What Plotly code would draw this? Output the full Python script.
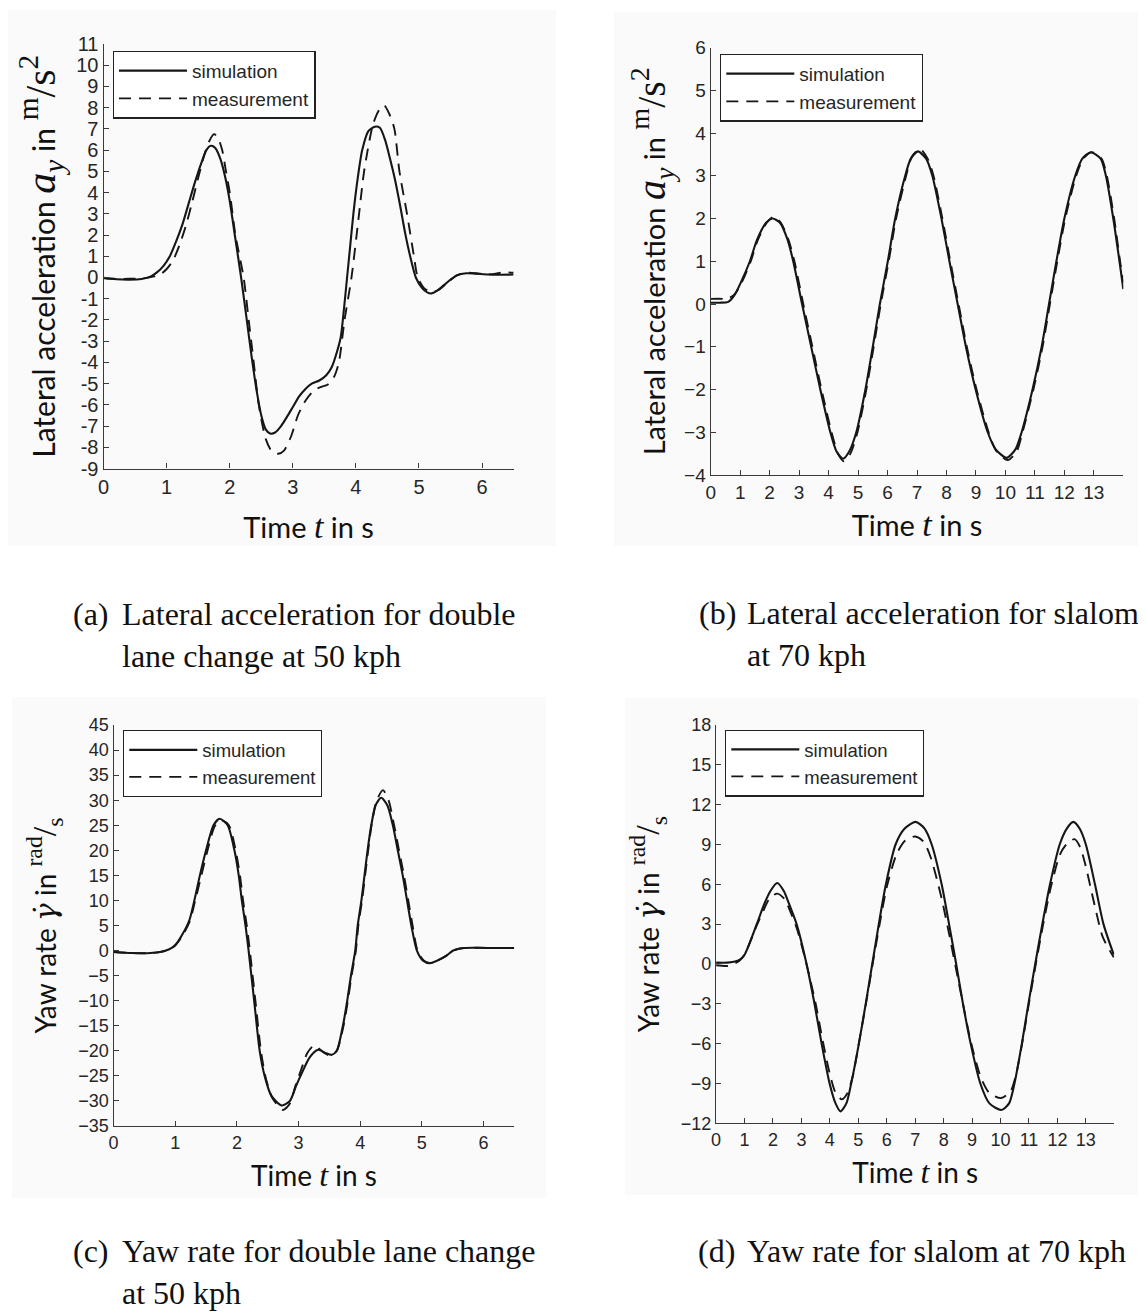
import plotly.graph_objects as go

W, H = 1146, 1315

# ---------------- data ----------------
# (a) lateral acceleration, double lane change 50 kph
a_sim_t = [0.0, 0.2, 0.4, 0.6, 0.75, 0.85, 0.95, 1.05, 1.15, 1.25, 1.35, 1.45, 1.55, 1.63, 1.7, 1.77,
           1.85, 1.93, 2.0, 2.08, 2.18, 2.27, 2.35, 2.43, 2.5, 2.57, 2.64, 2.72, 2.8, 2.9, 3.0, 3.1,
           3.2, 3.3, 3.42, 3.53, 3.62, 3.7, 3.76, 3.81, 3.86, 3.91, 3.96, 4.03, 4.1, 4.2, 4.3, 4.38,
           4.46, 4.54, 4.62, 4.7, 4.78, 4.86, 4.95, 5.05, 5.13, 5.2, 5.3, 5.4, 5.5, 5.6, 5.75, 5.9,
           6.1, 6.3, 6.5]
a_sim_v = [-0.02, -0.08, -0.1, -0.07, 0.05, 0.25, 0.55, 1.0, 1.7, 2.5, 3.5, 4.5, 5.4, 6.0, 6.2, 6.1,
           5.6, 4.7, 3.6, 2.0, 0.0, -2.0, -3.8, -5.4, -6.5, -7.15, -7.35, -7.3, -7.05, -6.6, -6.1, -5.6,
           -5.25, -5.0, -4.85, -4.6, -4.2, -3.5, -2.8, -1.5, 0.0, 1.5, 3.0, 4.7, 6.0, 6.9, 7.1, 7.05,
           6.5, 5.6, 4.6, 3.4, 2.1, 1.0, 0.0, -0.5, -0.7, -0.75, -0.6, -0.35, -0.1, 0.1, 0.2, 0.18,
           0.14, 0.13, 0.14]
a_meas_t = [0.0, 0.2, 0.4, 0.6, 0.8, 0.9, 1.0, 1.1, 1.2, 1.3, 1.4, 1.5, 1.6, 1.68, 1.75, 1.81, 1.88,
            1.94, 2.0, 2.09, 2.22, 2.3, 2.38, 2.46, 2.57, 2.67, 2.77, 2.86, 2.97, 3.08, 3.2, 3.34, 3.45,
            3.55, 3.65, 3.73, 3.82, 3.93, 4.05, 4.13, 4.27, 4.37, 4.45, 4.53, 4.61, 4.69, 4.81, 4.92,
            4.98, 5.08, 5.2, 5.3, 5.45, 5.6, 5.75, 5.95, 6.15, 6.35, 6.5]
a_meas_v = [-0.03, -0.08, -0.06, -0.05, 0.05, 0.15, 0.4, 0.8, 1.5, 2.4, 3.5, 4.7, 5.8, 6.45, 6.75, 6.6, 6.0,
            5.0, 4.0, 2.0, 0.0, -2.0, -4.0, -6.0, -7.6, -8.2, -8.3, -8.15, -7.5, -6.5, -5.8, -5.3, -5.15,
            -5.05, -4.7, -4.0, -2.0, 0.0, 3.0, 5.0, 7.2, 7.9, 8.1, 7.7, 7.0, 5.0, 3.0, 1.0,
            0.0, -0.5, -0.7, -0.6, -0.25, 0.1, 0.22, 0.18, 0.15, 0.25, 0.22]

# (b) lateral acceleration, slalom 70 kph
b_sim_t = [0.0, 0.3, 0.6, 0.8, 1.02, 1.33, 1.57, 1.88, 2.1, 2.35, 2.61, 2.8, 3.1, 3.41, 3.72, 4.06, 4.27,
           4.49, 4.7, 4.94, 5.25, 5.5, 5.74, 6.01, 6.26, 6.6, 6.79, 7.03, 7.31, 7.52, 7.83, 8.1, 8.38,
           8.66, 8.99, 9.4, 9.67, 10.04, 10.34, 10.55, 10.92, 11.23, 11.48, 11.73, 12.0, 12.37, 12.61,
           12.9, 13.23, 13.41, 13.66, 13.87, 14.0]
b_sim_v = [0.03, 0.03, 0.05, 0.2, 0.5, 1.0, 1.5, 1.9, 2.0, 1.9, 1.5, 1.0, 0.0, -1.0, -2.0, -3.0, -3.45,
           -3.62, -3.45, -3.0, -2.0, -1.0, 0.0, 1.0, 2.0, 3.0, 3.4, 3.57, 3.4, 3.0, 2.0, 1.0, 0.0,
           -1.0, -2.0, -3.0, -3.4, -3.6, -3.4, -3.0, -2.0, -1.0, 0.0, 1.0, 2.0, 3.0, 3.4,
           3.55, 3.4, 3.0, 2.0, 1.0, 0.35]
b_meas_t = [0.0, 0.4, 0.5, 0.8, 1.05, 1.36, 1.6, 1.9, 2.15, 2.38, 2.64, 2.84, 3.14, 3.45, 3.76, 4.1, 4.32,
            4.52, 4.74, 4.98, 5.28, 5.53, 5.77, 6.04, 6.29, 6.63, 6.83, 7.1, 7.36, 7.56, 7.86, 8.13, 8.41,
            8.69, 9.02, 9.43, 9.7, 10.08, 10.38, 10.58, 10.95, 11.26, 11.51, 11.76, 12.03, 12.4, 12.64,
            12.93, 13.26, 13.44, 13.69, 13.89, 14.0]
b_meas_v = [0.12, 0.12, 0.1, 0.22, 0.5, 1.0, 1.5, 1.9, 2.05, 1.9, 1.5, 1.0, 0.0, -1.0, -2.0, -3.0, -3.5,
            -3.68, -3.5, -3.0, -2.0, -1.0, 0.0, 1.0, 2.0, 3.0, 3.45, 3.63, 3.4, 3.0, 2.0, 1.0, 0.0,
            -1.0, -2.0, -3.0, -3.45, -3.65, -3.45, -3.0, -2.0, -1.0, 0.0, 1.0, 2.0, 3.0, 3.4,
            3.55, 3.4, 3.0, 2.0, 1.0, 0.5]

# (c) yaw rate, double lane change 50 kph
c_sim_t = [0.0, 0.3, 0.6, 0.75, 0.85, 0.95, 1.0, 1.11, 1.23, 1.31, 1.4, 1.5, 1.62, 1.72, 1.85, 1.96,
           2.03, 2.08, 2.14, 2.19, 2.28, 2.37, 2.45, 2.56, 2.73, 2.86, 2.96, 3.07, 3.17, 3.28, 3.33,
           3.45, 3.54, 3.62, 3.72, 3.79, 3.85, 3.92, 3.96, 4.02, 4.07, 4.12, 4.18, 4.25, 4.34, 4.44,
           4.53, 4.61, 4.69, 4.76, 4.83, 4.92, 5.02, 5.13, 5.25, 5.4, 5.51, 5.68, 5.9, 6.2, 6.5]
c_sim_v = [-0.3, -0.5, -0.5, -0.3, 0.0, 0.6, 1.1, 3.1, 6.1, 10.0, 15.0, 20.0, 25.0, 26.3, 25.0, 20.0,
           15.0, 10.0, 5.0, 0.0, -10.0, -20.0, -25.0, -29.0, -30.9, -30.0, -27.0, -24.0, -21.5, -20.0, -19.8,
           -20.5, -20.8, -20.0, -15.0, -10.0, -5.0, 0.0, 5.0, 10.0, 15.0, 20.0, 25.0, 29.0, 30.5, 29.0,
           25.0, 20.0, 15.0, 10.0, 5.0, 0.0, -2.0, -2.5, -2.0, -1.0, 0.0, 0.5, 0.55, 0.5, 0.5]
c_meas_t = [0.0, 0.3, 0.6, 0.75, 0.85, 0.95, 1.0, 1.12, 1.24, 1.32, 1.42, 1.52, 1.64, 1.74, 1.87, 1.98,
            2.05, 2.1, 2.16, 2.21, 2.3, 2.39, 2.47, 2.58, 2.75, 2.86, 2.95, 3.05, 3.14, 3.24, 3.28,
            3.4, 3.52, 3.62, 3.73, 3.8, 3.86, 3.93, 3.97, 4.03, 4.08, 4.13, 4.19, 4.27, 4.37, 4.46,
            4.55, 4.63, 4.71, 4.78, 4.85, 4.93, 5.03, 5.13, 5.25, 5.4, 5.51, 5.68, 5.9, 6.2, 6.5]
c_meas_v = [-0.3, -0.5, -0.5, -0.3, 0.0, 0.6, 1.0, 3.0, 6.0, 9.8, 14.8, 19.8, 24.8, 26.0, 25.0, 20.0,
            15.0, 10.0, 5.0, 0.0, -10.0, -20.0, -25.5, -29.5, -31.8, -30.5, -27.0, -23.5, -20.5, -19.0, -19.0,
            -20.3, -21.0, -20.0, -15.0, -10.0, -5.0, 0.0, 5.0, 10.0, 15.0, 20.0, 25.5, 30.0, 32.0, 30.0,
            25.0, 20.0, 15.0, 10.0, 5.0, 0.0, -2.0, -2.5, -2.0, -1.0, 0.0, 0.5, 0.55, 0.5, 0.5]

# (d) yaw rate, slalom 70 kph
d_sim_t = [0.0, 0.4, 0.7, 0.85, 1.0, 1.43, 1.69, 1.91, 2.15, 2.38, 2.57, 2.83, 3.18, 3.46, 3.71, 3.99,
           4.2, 4.37, 4.58, 4.75, 5.02, 5.26, 5.49, 5.72, 5.97, 6.31, 6.63, 7.01, 7.33, 7.58, 7.93,
           8.19, 8.44, 8.68, 8.95, 9.29, 9.61, 10.03, 10.3, 10.49, 10.75, 10.98, 11.22, 11.47, 11.74,
           12.08, 12.33, 12.56, 12.78, 13.0, 13.32, 13.62, 13.98]
d_sim_v = [0.1, 0.1, 0.2, 0.35, 0.7, 3.0, 4.5, 5.5, 6.1, 5.5, 4.5, 3.0, 0.0, -3.0, -6.0, -9.0,
           -10.5, -11.1, -10.5, -9.0, -6.0, -3.0, 0.0, 3.0, 6.0, 9.0, 10.2, 10.7, 10.2, 9.0, 6.0,
           3.0, 0.0, -3.0, -6.0, -9.0, -10.5, -11.0, -10.5, -9.0, -6.0, -3.0, 0.0, 3.0, 6.0,
           9.0, 10.2, 10.7, 10.2, 9.0, 6.0, 3.0, 0.7]
d_meas_t = [0.0, 0.4, 0.6, 0.8, 1.0, 1.43, 1.7, 1.9, 2.15, 2.4, 2.6, 2.85, 3.2, 3.5, 3.75, 4.0,
            4.2, 4.42, 4.6, 4.8, 5.05, 5.3, 5.52, 5.75, 6.0, 6.35, 6.65, 7.0, 7.3, 7.55, 7.9,
            8.17, 8.42, 8.68, 8.95, 9.3, 9.6, 10.02, 10.35, 10.55, 10.8, 11.02, 11.25, 11.5, 11.77,
            12.1, 12.35, 12.6, 12.8, 12.98, 13.3, 13.6, 13.98]
d_meas_v = [-0.1, -0.15, 0.0, 0.2, 0.7, 2.9, 4.2, 5.0, 5.3, 4.9, 4.0, 2.6, -0.2, -3.0, -5.8, -8.3,
            -9.7, -10.2, -9.8, -8.5, -5.6, -2.6, 0.2, 3.0, 5.8, 8.3, 9.3, 9.6, 9.2, 8.0, 5.2,
            2.5, -0.2, -3.0, -5.8, -8.5, -9.7, -10.1, -9.6, -8.3, -5.5, -2.7, 0.1, 3.0, 5.8,
            8.3, 9.1, 9.4, 8.8, 7.5, 4.5, 2.0, 0.5]

# tick labels
a_xticks = [0, 1, 2, 3, 4, 5, 6]
a_yticks = list(range(-9, 12))
a_ytext = [str(v) for v in a_yticks]          # plain hyphen minus like the original
slalom_xticks = list(range(0, 14))
b_yticks = list(range(-4, 7))
c_yticks = list(range(-35, 50, 5))
d_yticks = list(range(-12, 21, 3))

series_names = ["simulation", "measurement"]

captions = [
    ("(a)", "Lateral acceleration for double<br>lane change at 50 kph"),
    ("(b)", "Lateral acceleration for slalom<br>at 70 kph"),
    ("(c)", "Yaw rate for double lane change<br>at 50 kph"),
    ("(d)", "Yaw rate for slalom at 70 kph"),
]

# ---------------- styling helpers ----------------
OFF = 8  # the page body margin shifts the figure by 8 px


def fx(p):
    return (p - OFF) / W


def fy(p):
    return 1 - (p - OFF) / H


INK = "#161616"
SANS = "Liberation Sans, Arial, sans-serif"
TITLE_FONT = "Lato, Carlito, sans-serif"
SERIF = "font-family:'Liberation Serif', serif"
DSERIF = "font-family:'DejaVu Serif', serif"

fig = go.Figure()

panels = [
    (a_sim_t, a_sim_v, a_meas_t, a_meas_v, "", "legend"),
    (b_sim_t, b_sim_v, b_meas_t, b_meas_v, "2", "legend2"),
    (c_sim_t, c_sim_v, c_meas_t, c_meas_v, "3", "legend3"),
    (d_sim_t, d_sim_v, d_meas_t, d_meas_v, "4", "legend4"),
]

for st, sv, mt, mv, sfx, lg in panels:
    fig.add_trace(go.Scatter(
        x=st, y=sv, mode="lines", name=series_names[0], legend=lg,
        xaxis="x" + sfx, yaxis="y" + sfx,
        line=dict(color=INK, width=2.1, shape="spline", smoothing=0.7),
        hoverinfo="skip"))
    fig.add_trace(go.Scatter(
        x=mt, y=mv, mode="lines", name=series_names[1], legend=lg,
        xaxis="x" + sfx, yaxis="y" + sfx,
        line=dict(color=INK, width=1.9, dash="12px,8px", shape="spline", smoothing=0.7),
        hoverinfo="skip"))


def axis(domain, rng, tickvals, tsize, title, title_size, standoff, ticktext=None):
    d = dict(
        domain=domain, range=rng, tickvals=tickvals, showgrid=False, zeroline=False,
        showline=True, linecolor="#3a3a3a", linewidth=1.3, ticks="inside", ticklen=5,
        tickcolor="#3a3a3a", tickwidth=1.2, mirror=False, automargin=False,
        tickfont=dict(family=SANS, size=tsize, color="#262626"),
        title=dict(text=title, font=dict(family=TITLE_FONT, size=title_size, color="#111"),
                   standoff=standoff),
        fixedrange=True)
    if ticktext is not None:
        d["ticktext"] = ticktext
    return d


def time_title(sz):
    return "Time <span style=\"%s;font-size:%dpx\"><i>t</i></span> in s" % (SERIF, sz)


def lat_title(sz):
    return ("Lateral acceleration <span style=\"%s;font-size:%dpx\"><i>a</i><sub><i>y</i></sub></span> in "
            "<span style=\"%s;font-size:%dpx\"><sup>m</sup>/s<sup>2</sup></span>" % (SERIF, sz, SERIF, sz))


def yaw_title(sz):
    return ("Yaw rate <span style=\"%s;font-size:%dpx\"><i>γ̇</i></span> in "
            "<span style=\"%s;font-size:%dpx\"><sup>rad</sup>/<sub>s</sub></span>" % (DSERIF, sz - 4, SERIF, sz))


fig.update_layout(
    xaxis=axis([fx(103.6), fx(513.6)], [0, 6.5], a_xticks, 20, time_title(34), 29, 20),
    yaxis=axis([fy(468.6), fy(43.9)], [-9, 11], a_yticks, 20, lat_title(42), 30, 11, a_ytext),
    xaxis2=axis([fx(710.7), fx(1123.3)], [0, 14], slalom_xticks, 19, time_title(34), 29, 13),
    yaxis2=axis([fy(475), fy(47.5)], [-4, 6], b_yticks, 19, lat_title(40), 29, 9),
    xaxis3=axis([fx(113.6), fx(514.3)], [0, 6.5], a_xticks, 18, time_title(32), 28, 14),
    yaxis3=axis([fy(1126), fy(725)], [-35, 45], c_yticks, 18, yaw_title(34), 28, 13),
    xaxis4=axis([fx(716.1), fx(1114.3)], [0, 14], slalom_xticks, 18, time_title(32), 28, 14),
    yaxis4=axis([fy(1123.3), fy(725)], [-12, 18], d_yticks, 18, yaw_title(34), 28, 12),
)

for ax, ya in (("xaxis", "y"), ("xaxis2", "y2"), ("xaxis3", "y3"), ("xaxis4", "y4")):
    fig.layout[ax].anchor = ya
for ax, xa in (("yaxis", "x"), ("yaxis2", "x2"), ("yaxis3", "x3"), ("yaxis4", "x4")):
    fig.layout[ax].anchor = xa


def legend_cfg(left, mid, size):
    return dict(x=fx(left), y=fy(mid), xanchor="left", yanchor="middle", bgcolor="white",
                bordercolor="#222", borderwidth=1.3, itemwidth=68, tracegroupgap=0,
                font=dict(family=SANS, size=size, color="#262626"), traceorder="normal")


fig.update_layout(
    legend=legend_cfg(112.7, 84.5, 19),
    legend2=legend_cfg(720, 87.5, 19),
    legend3=legend_cfg(123, 763.5, 18.5),
    legend4=legend_cfg(725, 763, 18.5),
)

# faint scanned-figure panel backgrounds
for (x0, y0, x1, y1) in [(8, 10, 556, 546), (614, 12, 1146, 546), (12, 697, 546, 1198), (625, 698, 1143, 1195)]:
    fig.add_shape(type="rect", xref="paper", yref="paper", x0=fx(x0), x1=fx(x1), y0=fy(y1), y1=fy(y0),
                  fillcolor="#fafafa", line=dict(width=0), layer="below")

# captions
cap_pos = [(71, 120, 594), (697, 745, 593), (71, 120, 1231), (696, 745, 1231)]
for (lab, txt), (xl, xt, top) in zip(captions, cap_pos):
    for s, xx in ((lab, xl), (txt, xt)):
        fig.add_annotation(text=s, xref="paper", yref="paper", x=fx(xx), y=fy(top), xanchor="left",
                           yanchor="top", showarrow=False, align="left",
                           font=dict(family="Liberation Serif, Times New Roman, serif", size=32,
                                     color="#111"))

fig.update_layout(
    template="none",
    width=W, height=H, margin=dict(l=0, r=0, t=0, b=0, autoexpand=False),
    paper_bgcolor="white", plot_bgcolor="rgba(0,0,0,0)",
    showlegend=True,
)

fig.write_html("out.html")
